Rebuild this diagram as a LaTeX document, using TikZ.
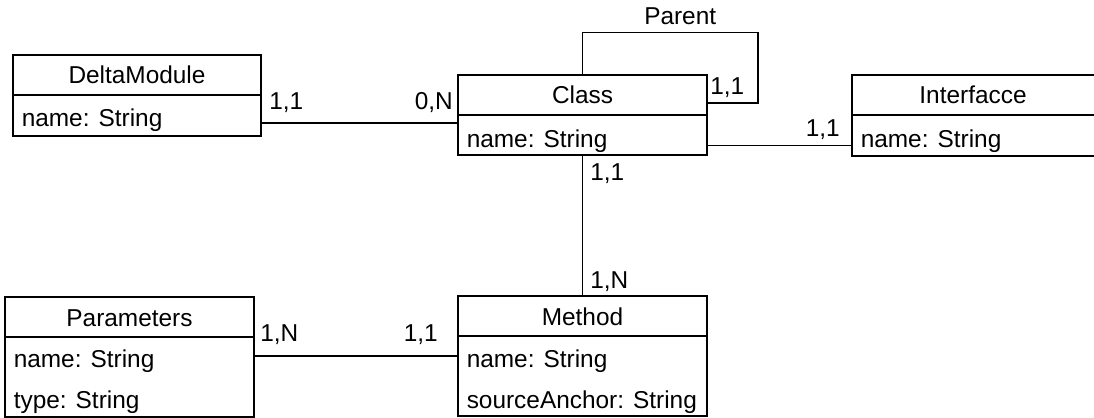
\documentclass[tikz,border=0pt]{standalone}
\usepackage{fontspec}
\setmainfont{Liberation Sans}
\begin{document}
\begin{tikzpicture}[x=0.75pt,y=-0.75pt,
  box/.style={draw=black,line width=1pt,rectangle,inner sep=0pt},
  conn/.style={draw=black,line width=1pt},
  txt/.style={inner sep=0pt,font=\fontsize{18.3pt}{22pt}\selectfont},
  lbl/.style={txt}]
\clip (0,0) rectangle (1094,417);
\fill[white] (0,0) rectangle (1094,417);
% DeltaModule
\node[box,minimum width=186pt,minimum height=60.75pt] (dm) at (137,95.5) {};
\draw[conn] (13,95) -- (261,95);
\node[txt,anchor=base] (dmT) at (137,84) {DeltaModule};
\node[txt,anchor=base west] (dmA) at (21.5,127) {name: String};
% Class
\node[box,minimum width=186.75pt,minimum height=60pt] (cls) at (582.5,115) {};
\draw[conn] (458,115) -- (707,115);
\node[txt,anchor=base] (clsT) at (582.5,104) {Class};
\node[txt,anchor=base west] (clsA) at (466.5,147) {name: String};
% Interfacce
\node[box,minimum width=186pt,minimum height=60.75pt] (itf) at (976,115.5) {};
\draw[conn] (852,115) -- (1100,115);
\node[txt,anchor=base] (itfT) at (973,104) {Interfacce};
\node[txt,anchor=base west] (itfA) at (860.5,147) {name: String};
% Parameters
\node[box,minimum width=186.75pt,minimum height=90pt] (par) at (129.5,357) {};
\draw[conn] (5,337) -- (254,337);
\node[txt,anchor=base] (parT) at (129.5,326) {Parameters};
\node[txt,anchor=base west] (parA) at (13.5,367.5) {name: String};
\node[txt,anchor=base west] (parB) at (13.5,408) {type: String};
% Method
\node[box,minimum width=186.75pt,minimum height=90pt] (met) at (582.5,356) {};
\draw[conn] (458,336) -- (707,336);
\node[txt,anchor=base] (metT) at (582.5,325) {Method};
\node[txt,anchor=base west] (metA) at (466.5,367.5) {name: String};
\node[txt,anchor=base west] (metB) at (466.5,408) {sourceAnchor: String};
% connectors
\draw[conn] (dm.east |- 0,123) -- (cls.west |- 0,123);
\draw[conn] (cls.north) -- ++(0,-42) -| (758,103) -- (cls.east |- 0,103);
\draw[conn] (cls.east |- 0,145.5) -- (itf.west |- 0,145.5);
\draw[conn] (cls.south) -- (met.north);
\draw[conn] (par.east |- 0,356) -- (met.west |- 0,356);
% labels
\node[lbl,anchor=base west] (l1) at (269,110) {1,1};
\node[lbl,anchor=base east] (l2) at (453,110) {0,N};
\node[lbl,anchor=base west] (l3) at (644,25) {Parent};
\node[lbl,anchor=base west] (l4) at (710,95) {1,1};
\node[lbl,anchor=base east] (l5) at (840,137) {1,1};
\node[lbl,anchor=base west] (l6) at (590,180) {1,1};
\node[lbl,anchor=base west] (l7) at (590,288) {1,N};
\node[lbl,anchor=base west] (l8) at (260,341) {1,N};
\node[lbl,anchor=base east] (l9) at (438,341) {1,1};
\end{tikzpicture}
\end{document}
